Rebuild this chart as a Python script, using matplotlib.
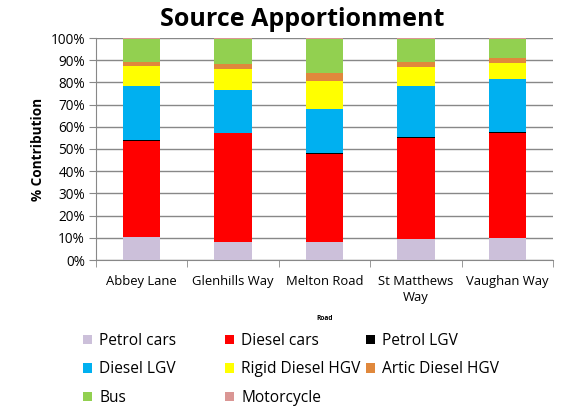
import matplotlib

matplotlib.use("Agg")
import matplotlib.pyplot as plt
import numpy as np
from matplotlib.patches import Patch
from matplotlib.ticker import FixedLocator, PercentFormatter

plt.rcParams["font.family"] = ["Open Sans", "DejaVu Sans"]

roads = ["Abbey Lane", "Glenhills Way", "Melton Road", "St Matthews\nWay", "Vaughan Way"]
sources = [
    "Petrol cars", "Diesel cars", "Petrol LGV", "Diesel LGV",
    "Rigid Diesel HGV", "Artic Diesel HGV", "Bus", "Motorcycle",
]
colors = ["#CCC0DA", "#FF0000", "#000000", "#00B0F0", "#FFFF00", "#E0883C", "#92D050", "#DA9694"]

# % contribution per road, one list per source
petrol_cars = [10.2, 8.0, 8.3, 9.5, 9.9]
diesel_cars = [43.5, 49.1, 39.5, 45.5, 47.5]
petrol_lgv = [0.3, 0.3, 0.3, 0.3, 0.3]
diesel_lgv = [24.5, 19.2, 19.8, 22.9, 23.8]
rigid_hgv = [8.9, 9.4, 12.9, 8.9, 7.4]
artic_hgv = [1.8, 2.4, 3.6, 2.2, 2.1]
bus = [10.2, 11.1, 15.1, 10.3, 8.6]
motorcycle = [0.6, 0.5, 0.5, 0.4, 0.4]

series = [petrol_cars, diesel_cars, petrol_lgv, diesel_lgv, rigid_hgv, artic_hgv, bus, motorcycle]

W, H = 569, 407
fig = plt.figure(figsize=(W / 100, H / 100), dpi=100)
ax = fig.add_axes([96 / W, 1 - 260 / H, 457 / W, 222 / H])

x = np.arange(len(roads))
bottom = np.zeros(len(roads))
for values, color in zip(series, colors):
    ax.bar(x, values, bottom=bottom, width=0.41, color=color, zorder=3)
    bottom += np.array(values)

ax.set_xlim(-0.5, len(roads) - 0.5)
ax.set_ylim(0, 100)
ax.yaxis.set_major_locator(FixedLocator(np.arange(0, 101, 10)))
ax.yaxis.set_major_formatter(PercentFormatter(decimals=0))
ax.grid(axis="y", color="#888888", linewidth=1.0, zorder=0)

ax.set_xticks(x)
ax.set_xticklabels(roads, fontsize=9.4, linespacing=1.25)
ax.xaxis.set_minor_locator(FixedLocator(np.arange(-0.5, len(roads), 1)))
ax.tick_params(axis="x", which="major", length=0, pad=11)
ax.tick_params(axis="x", which="minor", length=5, color="#888888")
ax.tick_params(axis="y", labelsize=9.8, length=5, color="#888888", pad=3)

for side in ["top", "right"]:
    ax.spines[side].set_visible(False)
for side in ["left", "bottom"]:
    ax.spines[side].set_color("#888888")

ax.set_ylabel("% Contribution", fontsize=9.8, fontweight="bold", labelpad=4)
ax.set_xlabel("Road", fontsize=4.8, fontweight="bold", labelpad=8)
fig.text(302 / W, 1 - 26.5 / H, "Source Apportionment", fontsize=18, fontweight="bold",
         ha="center", va="baseline")

# legend laid out row by row in three fixed columns, like the reference
handles = [Patch(facecolor=c, label=s) for s, c in zip(sources, colors)]
columns = [[0, 3, 6], [1, 4, 7], [2, 5]]
col_x = [83, 225, 366]
for idx, cx in zip(columns, col_x):
    fig.legend(
        [handles[i] for i in idx], [sources[i] for i in idx],
        loc="upper left", bbox_to_anchor=(cx / W, 1 - 333 / H),
        frameon=False, fontsize=11.2, handlelength=0.58, handleheight=0.58,
        handletextpad=0.45, labelspacing=0.8, borderpad=0, borderaxespad=0,
    )

fig.savefig("out.png", dpi=100)
